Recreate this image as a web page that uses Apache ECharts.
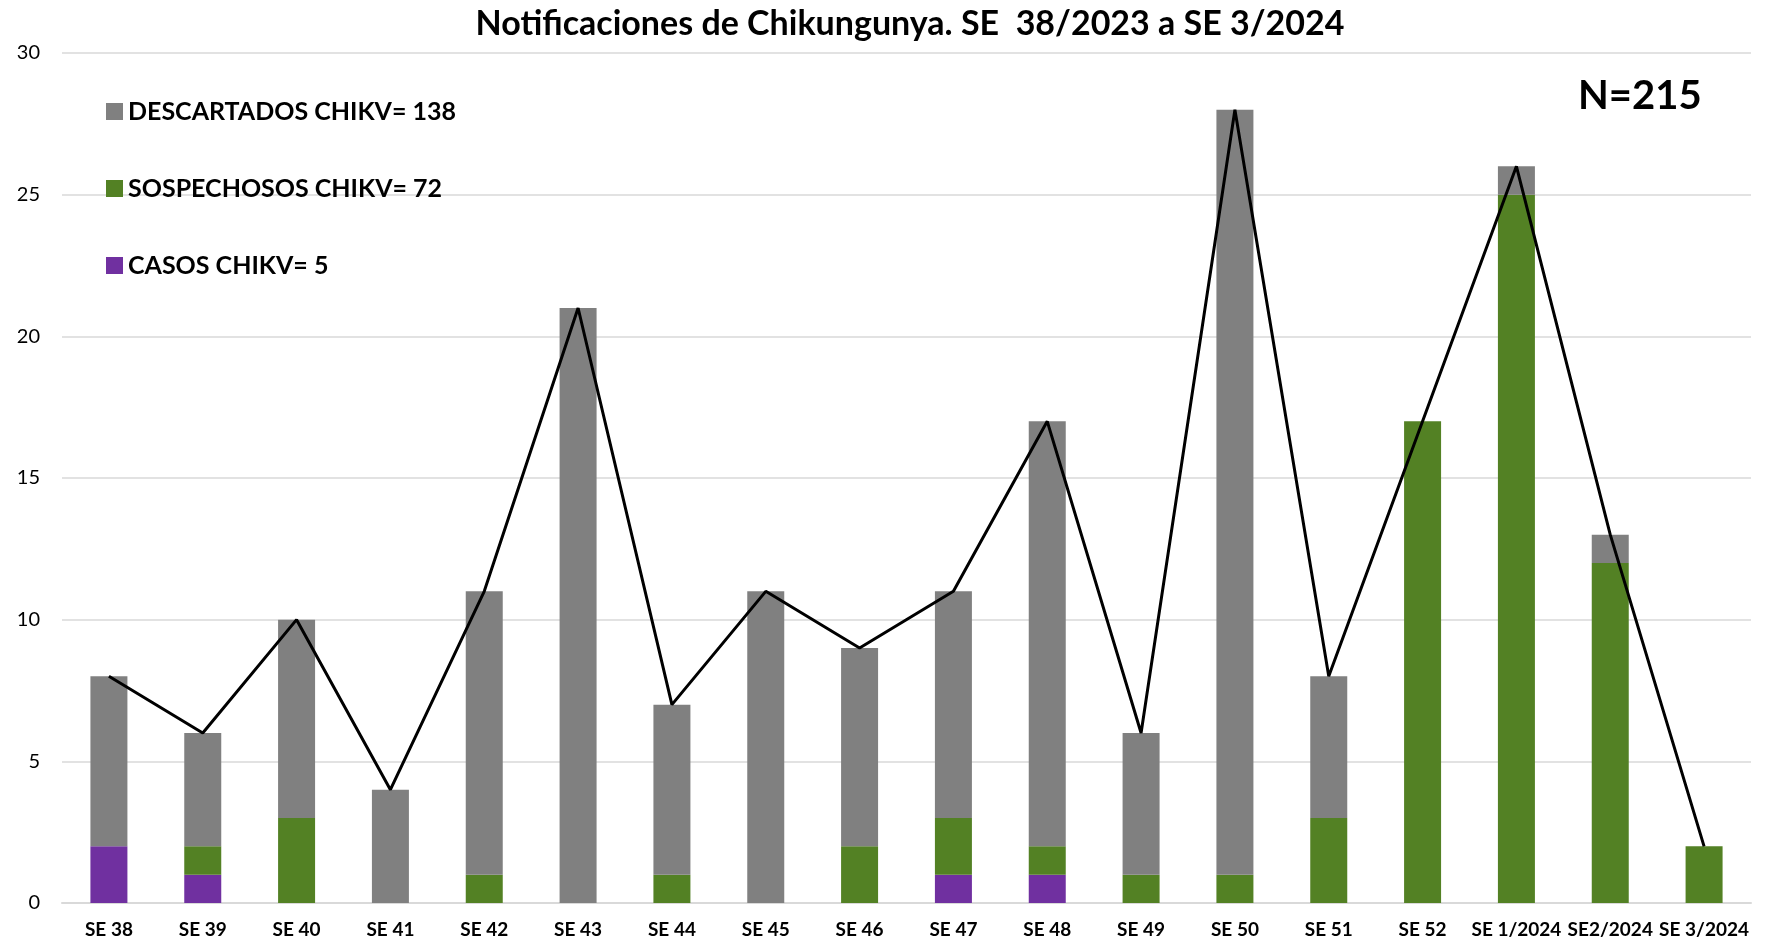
<!DOCTYPE html>
<html>
<head>
<meta charset="utf-8">
<script src="https://cdn.jsdelivr.net/npm/echarts@6/dist/echarts.min.js"></script>
<style>
  html, body { margin: 0; padding: 0; background: #fff; }
  #main { width: 1774px; height: 943px; }
</style>
</head>
<body>
<div id="main"></div>
<script>
// semanas epidemiologicas
const semanas = ['SE 38', 'SE 39', 'SE 40', 'SE 41', 'SE 42', 'SE 43', 'SE 44', 'SE 45', 'SE 46',
  'SE 47', 'SE 48', 'SE 49', 'SE 50', 'SE 51', 'SE 52', 'SE 1/2024', 'SE2/2024', 'SE 3/2024'];

const casos = [2, 1, 0, 0, 0, 0, 0, 0, 0, 1, 1, 0, 0, 0, 0, 0, 0, 0];
const sospechosos = [0, 1, 3, 0, 1, 0, 1, 0, 2, 2, 1, 1, 1, 3, 17, 25, 12, 2];
const descartados = [6, 4, 7, 4, 10, 21, 6, 11, 7, 8, 15, 5, 27, 5, 0, 1, 1, 0];
const totales = [8, 6, 10, 4, 11, 21, 7, 11, 9, 11, 17, 6, 28, 8, 17, 26, 13, 2];

const yTicks = [0, 5, 10, 15, 20, 25, 30];

const font = 'Lato';

var myChart = echarts.init(document.getElementById('main'));

let option = {
  animation: false,
  title: {
    text: 'Notificaciones de Chikungunya. SE  38/2023 a SE 3/2024',
    left: 905,
    textAlign: 'center',
    top: 2,
    textStyle: { fontFamily: font, fontWeight: 'bold', fontSize: 34, color: '#000' }
  },
  legend: {
    orient: 'vertical',
    left: 101,
    top: 94,
    itemGap: 52,
    itemWidth: 17,
    itemHeight: 17,
    icon: 'rect',
    data: ['DESCARTADOS CHIKV= 138', 'SOSPECHOSOS CHIKV= 72', 'CASOS CHIKV= 5'],
    textStyle: { fontFamily: font, fontWeight: 'bold', fontSize: 25, color: '#000' }
  },
  graphic: [{
    type: 'text',
    left: 1578,
    top: 76,
    style: { text: 'N=215', fontFamily: font, fontWeight: 'bold', fontSize: 40, fill: '#000' }
  }],
  grid: { left: 62, right: 23, top: 53, bottom: 40 },
  xAxis: {
    type: 'category',
    data: semanas,
    axisTick: { show: false },
    axisLine: { lineStyle: { color: '#d9d9d9', width: 2 } },
    axisLabel: { fontFamily: font, fontWeight: 'bold', fontSize: 19, color: '#000', margin: 17, interval: 0 }
  },
  yAxis: {
    type: 'value',
    min: yTicks[0],
    max: yTicks[yTicks.length - 1],
    interval: 5,
    axisLabel: { fontFamily: font, fontSize: 20, color: '#000', margin: 22 },
    splitLine: { lineStyle: { color: '#d9d9d9', width: 1.5 } }
  },
  series: [
    {
      name: 'CASOS CHIKV= 5',
      type: 'bar',
      stack: 'total',
      barWidth: 37,
      data: casos,
      itemStyle: { color: '#7030a0' }
    },
    {
      name: 'SOSPECHOSOS CHIKV= 72',
      type: 'bar',
      stack: 'total',
      barWidth: 37,
      data: sospechosos,
      itemStyle: { color: '#538124' }
    },
    {
      name: 'DESCARTADOS CHIKV= 138',
      type: 'bar',
      stack: 'total',
      barWidth: 37,
      data: descartados,
      itemStyle: { color: '#808080' }
    },
    {
      name: 'Total',
      type: 'line',
      data: totales,
      showSymbol: false,
      z: 10,
      lineStyle: { color: '#000', width: 3 }
    }
  ]
};

myChart.setOption(option);
</script>
</body>
</html>
